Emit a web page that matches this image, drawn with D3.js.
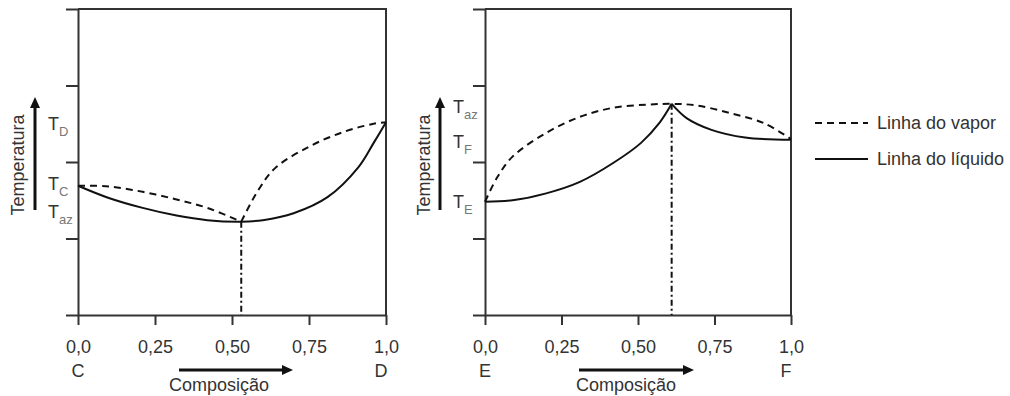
<!DOCTYPE html>
<html>
<head>
<meta charset="utf-8">
<script src="https://cdn.jsdelivr.net/npm/d3@7"></script>
<style>
  html, body { margin: 0; padding: 0; background: #fff; }
  svg { display: block; }
  text { font-family: "Liberation Sans", Arial, sans-serif; fill: #333; }
</style>
</head>
<body>
<svg id="chart" width="1010" height="396"></svg>
<script>
// Composition axis ticks and their labels (decimal comma)
const compTicks = [0, 0.25, 0.5, 0.75, 1];
const compTickLabels = ["0,0", "0,25", "0,50", "0,75", "1,0"];
// Temperature axis ticks (unlabelled marks)
const tempTicks = [0, 1, 2, 3, 4];

// System C–D: minimum-boiling azeotrope  [composition, temperature]
const cdLiquid = [[0, 1.69], [0.10, 1.53], [0.21, 1.40], [0.32, 1.30], [0.42, 1.24], [0.53, 1.22],
                  [0.60, 1.24], [0.70, 1.33], [0.81, 1.54], [0.91, 1.93], [0.96, 2.25], [1.0, 2.52]];
const cdVaporLeft = [[0, 1.69], [0.10, 1.68], [0.21, 1.61], [0.32, 1.51], [0.42, 1.40], [0.53, 1.22]];
const cdVaporRight = [[0.53, 1.22], [0.585, 1.63], [0.64, 1.92], [0.75, 2.20], [0.86, 2.39], [0.96, 2.50], [1.0, 2.52]];
const cdAzeotrope = [0.53, 1.22];

// System E–F: maximum-boiling azeotrope
const efVapor = [[0, 1.48], [0.04, 1.80], [0.09, 2.07], [0.20, 2.38], [0.31, 2.59], [0.42, 2.71], [0.53, 2.75],
                 [0.61, 2.76], [0.69, 2.74], [0.80, 2.64], [0.91, 2.51], [1.0, 2.30]];
const efLiquidLeft = [[0, 1.48], [0.09, 1.50], [0.20, 1.59], [0.31, 1.74], [0.42, 1.99], [0.51, 2.25], [0.57, 2.51], [0.61, 2.76]];
const efLiquidRight = [[0.61, 2.76], [0.66, 2.57], [0.74, 2.42], [0.85, 2.32], [1.0, 2.29]];
const efAzeotrope = [0.61, 2.76];

const svg = d3.select("#chart");
const INK = "#111";
const AXIS = "#333";
const DASH = "7,5";
const DASHDOT = "6,3,2,3";

function panel(cfg) {
  const x = d3.scaleLinear().domain([0, 1]).range([cfg.x0, cfg.x1]);
  const y = d3.scaleLinear().domain([0, 4]).range([315, 9]);
  const g = svg.append("g");

  // frame: top and right edges
  g.append("path")
    .attr("d", `M${x(0)},${y(4)}H${x(1)}V${y(0)}`)
    .attr("fill", "none").attr("stroke", AXIS).attr("stroke-width", 2);

  // left axis: tick marks only
  const left = g.append("g").attr("transform", `translate(${x(0)},0)`)
    .call(d3.axisLeft(y).tickValues(tempTicks).tickSize(12).tickSizeOuter(0).tickFormat(""));
  // bottom axis
  const bottom = g.append("g").attr("transform", `translate(0,${y(0)})`)
    .call(d3.axisBottom(x).tickValues(compTicks).tickSize(10).tickSizeOuter(0).tickPadding(15)
      .tickFormat((d, i) => compTickLabels[i]));
  [left, bottom].forEach(a => {
    a.selectAll("path, line").attr("stroke", AXIS).attr("stroke-width", 2);
    a.selectAll("text").style("font-size", "18px").attr("fill", "#333")
      .attr("font-family", "Liberation Sans, Arial, sans-serif");
  });

  // component names under the composition ends
  g.append("text").attr("x", x(0)).attr("y", 377).attr("text-anchor", "middle")
    .style("font-size", "18px").text(cfg.a);
  g.append("text").attr("x", x(1) - 5).attr("y", 377).attr("text-anchor", "middle")
    .style("font-size", "18px").text(cfg.b);

  // composition arrow + label
  const arrowY = 370;
  g.append("line").attr("x1", cfg.arrowX0).attr("x2", cfg.arrowX1 - 9)
    .attr("y1", arrowY).attr("y2", arrowY).attr("stroke", INK).attr("stroke-width", 3);
  g.append("path").attr("d", `M${cfg.arrowX1},${arrowY}l-11,-5v10z`).attr("fill", INK);
  g.append("text").attr("x", cfg.compLabelX).attr("y", 391).attr("text-anchor", "middle")
    .style("font-size", "18px").text("Composição");

  // temperature arrow + rotated label
  const ax = cfg.tempArrowX;
  g.append("line").attr("x1", ax).attr("x2", ax).attr("y1", 210).attr("y2", 105)
    .attr("stroke", INK).attr("stroke-width", 3);
  g.append("path").attr("d", `M${ax},97l-5,11h10z`).attr("fill", INK);
  g.append("text").attr("transform", `translate(${cfg.tempLabelX},165) rotate(-90)`)
    .attr("text-anchor", "middle").style("font-size", "18px").text("Temperatura");

  // T labels with subscripts
  cfg.tLabels.forEach(t => {
    const tx = g.append("text").attr("x", cfg.tLabelX).attr("y", t.y).style("font-size", "18px");
    tx.append("tspan").text("T");
    tx.append("tspan").attr("dy", 6).style("font-size", "13px").attr("fill", "#777").text(t.sub);
  });

  const line = d3.line().x(d => x(d[0])).y(d => y(d[1])).curve(d3.curveCatmullRom.alpha(0.5));
  cfg.vapor.forEach(s => g.append("path").attr("d", line(s)).attr("fill", "none")
    .attr("stroke", INK).attr("stroke-width", 2).attr("stroke-dasharray", DASH));
  cfg.liquid.forEach(s => g.append("path").attr("d", line(s)).attr("fill", "none")
    .attr("stroke", INK).attr("stroke-width", 2));

  // azeotrope composition marker
  g.append("line").attr("x1", x(cfg.az[0])).attr("x2", x(cfg.az[0]))
    .attr("y1", y(cfg.az[1])).attr("y2", y(0))
    .attr("stroke", INK).attr("stroke-width", 2).attr("stroke-dasharray", DASHDOT);
}

panel({
  x0: 78, x1: 386, a: "C", b: "D", arrowX0: 179, arrowX1: 293, compLabelX: 219,
  tempArrowX: 35, tempLabelX: 24, tLabelX: 48,
  tLabels: [{ y: 130, sub: "D" }, { y: 190, sub: "C" }, { y: 218, sub: "az" }],
  vapor: [cdVaporLeft, cdVaporRight], liquid: [cdLiquid], az: cdAzeotrope
});

panel({
  x0: 485, x1: 791, a: "E", b: "F", arrowX0: 579, arrowX1: 694, compLabelX: 626,
  tempArrowX: 440, tempLabelX: 430, tLabelX: 453,
  tLabels: [{ y: 113, sub: "az" }, { y: 148, sub: "F" }, { y: 208, sub: "E" }],
  vapor: [efVapor], liquid: [efLiquidLeft, efLiquidRight], az: efAzeotrope
});

// legend
const legend = [
  { label: "Linha do vapor", dash: DASH, y: 123 },
  { label: "Linha do líquido", dash: null, y: 159 }
];
const lg = svg.append("g");
legend.forEach(d => {
  lg.append("line").attr("x1", 815).attr("x2", 868).attr("y1", d.y).attr("y2", d.y)
    .attr("stroke", INK).attr("stroke-width", 2).attr("stroke-dasharray", d.dash);
  lg.append("text").attr("x", 877).attr("y", d.y + 6).style("font-size", "18px").text(d.label);
});
</script>
</body>
</html>
